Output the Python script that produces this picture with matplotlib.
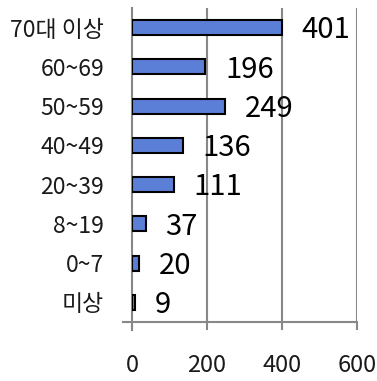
import matplotlib
matplotlib.use("Agg")
import matplotlib.pyplot as plt
import numpy as np

plt.rcParams['font.family'] = ['Noto Sans CJK KR', 'DejaVu Sans']
plt.rcParams['font.weight'] = 'light'

categories = ["70대 이상", "60~69", "50~59", "40~49", "20~39", "8~19", "0~7", "미상"]
values = [401, 196, 249, 136, 111, 37, 20, 9]
xticks = [0, 200, 400, 600]

fig = plt.figure(figsize=(3.77, 3.81), dpi=100)
ax = fig.add_axes([0.350, 0.155, 0.597, 0.824])

pos = np.arange(len(categories))
ax.barh(pos, values, height=0.38, color="#5B7FD6", edgecolor="black", linewidth=1.5, zorder=3)
ax.set_ylim(len(categories) - 0.5, -0.5)
ax.set_xlim(0, 600)

for p, v in zip(pos, values):
    ax.annotate(str(v), (v, p), xytext=(14, -2), textcoords="offset points",
                va="center", ha="left", fontsize=21, color="black")

ax.set_yticks(pos)
ax.set_yticklabels(categories, fontsize=16.5, color="#1a1a1a")
ax.tick_params(axis="y", length=0, pad=20)
ax.set_xticks(xticks)
ax.set_xticklabels([str(t) for t in xticks], fontsize=17, color="#1a1a1a")
ax.tick_params(axis="x", length=6, width=1.5, color="#888888", pad=17, direction="out")

for t in xticks[1:]:
    ax.axvline(t, color="#888888", linewidth=1.5, zorder=1)

for s in ["top", "right"]:
    ax.spines[s].set_visible(False)
ax.spines["left"].set_color("#888888")
ax.spines["left"].set_linewidth(1.5)
ax.spines["bottom"].set_color("#888888")
ax.spines["bottom"].set_linewidth(1.5)
ax.spines["bottom"].set_bounds(-25, 600)
ax.spines["left"].set_bounds(len(categories) - 0.5 + 0.2, -0.5)

fig.savefig("out.png", dpi=100)
